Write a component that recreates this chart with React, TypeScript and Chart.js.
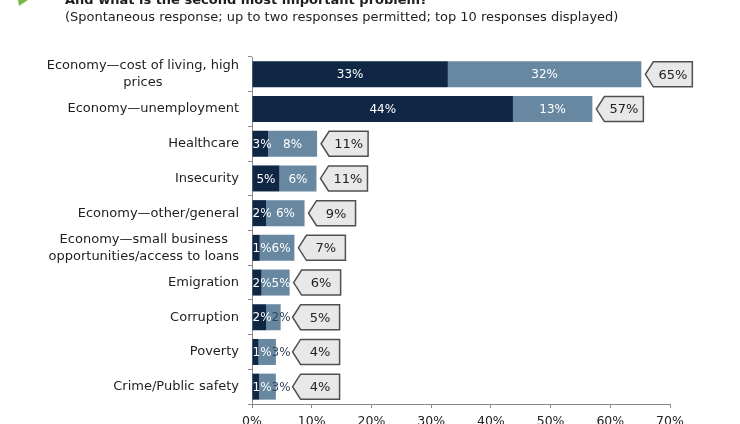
import React, { useEffect, useRef } from 'react';
import { Chart, registerables } from 'chart.js';

Chart.register(...registerables);

const titleText = 'And what is the second most important problem?';
const subtitleText = '(Spontaneous response; up to two responses permitted; top 10 responses displayed)';

const categories: string[][] = [
  ['Economy\u2014cost of living, high', 'prices'],
  ['Economy\u2014unemployment'],
  ['Healthcare'],
  ['Insecurity'],
  ['Economy\u2014other/general'],
  ['Economy\u2014small business', 'opportunities/access to loans'],
  ['Emigration'],
  ['Corruption'],
  ['Poverty'],
  ['Crime/Public safety'],
];

// bar lengths (unrounded)
const firstMention = [32.8, 43.7, 2.7, 4.6, 2.4, 1.3, 1.6, 2.4, 1.1, 1.2];
const secondMention = [32.4, 13.3, 8.2, 6.2, 6.4, 5.8, 4.7, 2.4, 2.9, 2.8];
// printed labels
const firstLabels = [33, 44, 3, 5, 2, 1, 2, 2, 1, 1];
const secondLabels = [32, 13, 8, 6, 6, 6, 5, 2, 3, 3];
const totalLabels = [65, 57, 11, 11, 9, 7, 6, 5, 4, 4];

const xMin = 0;
const xMax = 70;
const xStep = 10;

const DARK = '#0f2645';
const LIGHT = '#6888a2';
const FONT = '"DejaVu Sans", Verdana, sans-serif';

const overlayPlugin = {
  id: 'overlay',
  afterDatasetsDraw(chart: any) {
    const ctx = chart.ctx as CanvasRenderingContext2D;
    const metaDark = chart.getDatasetMeta(0);
    const metaLight = chart.getDatasetMeta(1);
    ctx.save();
    ctx.textBaseline = 'middle';
    ctx.textAlign = 'center';
    for (let i = 0; i < categories.length; i++) {
      ctx.font = `12px ${FONT}`;
      const d = metaDark.data[i];
      const l = metaLight.data[i];
      const dl = firstLabels[i] + '%';
      const ll = secondLabels[i] + '%';
      const dw = ctx.measureText(dl).width;
      const lw = ctx.measureText(ll).width;
      const dLeft = Math.min(d.base, d.x);
      const dRight = Math.max(d.base, d.x);
      let dx = (dLeft + dRight) / 2;
      dx = Math.max(dx, dLeft + dw / 2);
      ctx.fillStyle = '#ffffff';
      ctx.fillText(dl, dx, d.y + 1);
      const dEnd = dx + dw / 2;
      const lLeft = Math.min(l.base, l.x);
      const lRight = Math.max(l.base, l.x);
      let lx = (lLeft + lRight) / 2;
      lx = Math.max(lx, dEnd + lw / 2);
      const lEnd = lx + lw / 2;
      ctx.fillStyle = lEnd > lRight + 3 ? '#34465a' : '#ffffff';
      ctx.fillText(ll, lx, l.y + 1);

      // callout
      const tip = Math.max(lRight + 4, lEnd + 2);
      const h = 25;
      const w = 47;
      const depth = 8;
      const cy = l.y;
      ctx.beginPath();
      ctx.moveTo(tip, cy);
      ctx.lineTo(tip + depth, cy - h / 2);
      ctx.lineTo(tip + w, cy - h / 2);
      ctx.lineTo(tip + w, cy + h / 2);
      ctx.lineTo(tip + depth, cy + h / 2);
      ctx.closePath();
      ctx.fillStyle = '#e8e8e8';
      ctx.fill();
      ctx.lineWidth = 1.5;
      ctx.strokeStyle = '#505050';
      ctx.stroke();
      ctx.fillStyle = '#222222';
      ctx.font = `13px ${FONT}`;
      ctx.fillText(totalLabels[i] + '%', tip + depth + (w - depth) / 2, cy + 1);
    }
    ctx.restore();
  },
  afterDraw(chart: any) {
    const ctx = chart.ctx as CanvasRenderingContext2D;
    const yScale = chart.scales.y;
    ctx.save();
    ctx.font = `13px ${FONT}`;
    ctx.fillStyle = '#1e1e1e';
    ctx.textBaseline = 'middle';
    ctx.textAlign = 'center';
    const right = 239;
    const lh = 17;
    categories.forEach((lines, i) => {
      const cy = yScale.getPixelForValue(i);
      const maxW = Math.max(...lines.map((t) => ctx.measureText(t).width));
      const cx = right - maxW / 2;
      const y0 = cy - ((lines.length - 1) * lh) / 2;
      lines.forEach((t, j) => ctx.fillText(t, cx, y0 + j * lh));
    });
    // header
    ctx.textAlign = 'left';
    ctx.textBaseline = 'alphabetic';
    ctx.font = `bold 13px ${FONT}`;
    ctx.fillStyle = '#1e1e1e';
    ctx.fillText(titleText, 65, 4);
    ctx.font = `13px ${FONT}`;
    ctx.fillText(subtitleText, 65, 21);
    ctx.beginPath();
    ctx.moveTo(18, 0);
    ctx.lineTo(28, 0);
    ctx.lineTo(19, 6);
    ctx.closePath();
    ctx.fillStyle = '#7ab648';
    ctx.fill();
    ctx.restore();
  },
};

export default function App() {
  const canvasRef = useRef<HTMLCanvasElement | null>(null);

  useEffect(() => {
    if (!canvasRef.current) return;
    const chart = new Chart(canvasRef.current, {
      type: 'bar',
      data: {
        labels: categories,
        datasets: [
          {
            label: 'First',
            data: firstMention,
            backgroundColor: DARK,
            barPercentage: 0.75,
            categoryPercentage: 1,
          },
          {
            label: 'Second',
            data: secondMention,
            backgroundColor: LIGHT,
            barPercentage: 0.75,
            categoryPercentage: 1,
          },
        ],
      },
      options: {
        indexAxis: 'y',
        responsive: false,
        animation: false,
        layout: { padding: { top: 57, right: 70, left: 0, bottom: 0 } },
        plugins: {
          legend: { display: false },
          tooltip: { enabled: false },
          title: { display: false },
        },
        scales: {
          x: {
            stacked: true,
            min: xMin,
            max: xMax,
            ticks: {
              stepSize: xStep,
              callback: (v: any) => v + '%',
              color: '#222',
              font: { family: FONT, size: 12.5 },
              padding: 6,
              maxRotation: 0,
            },
            grid: { drawOnChartArea: false, tickLength: 4, color: '#8a8a8a' },
            border: { display: true, color: '#8a8a8a', width: 1 },
            afterFit: (s: any) => {
              s.height = 20;
            },
          },
          y: {
            stacked: true,
            ticks: { display: false },
            grid: { drawOnChartArea: false, offset: true, tickLength: 4, color: '#8a8a8a' },
            border: { display: true, color: '#8a8a8a', width: 1 },
            afterFit: (s: any) => {
              s.width = 252;
            },
          },
        },
      },
      plugins: [overlayPlugin],
    });
    return () => chart.destroy();
  }, []);

  return (
    <div style={{ position: 'fixed', left: 0, top: 0, width: 740, height: 424, background: '#fff' }}>
      <canvas ref={canvasRef} width={740} height={424} style={{ width: 740, height: 424, display: 'block' }} />
    </div>
  );
}
